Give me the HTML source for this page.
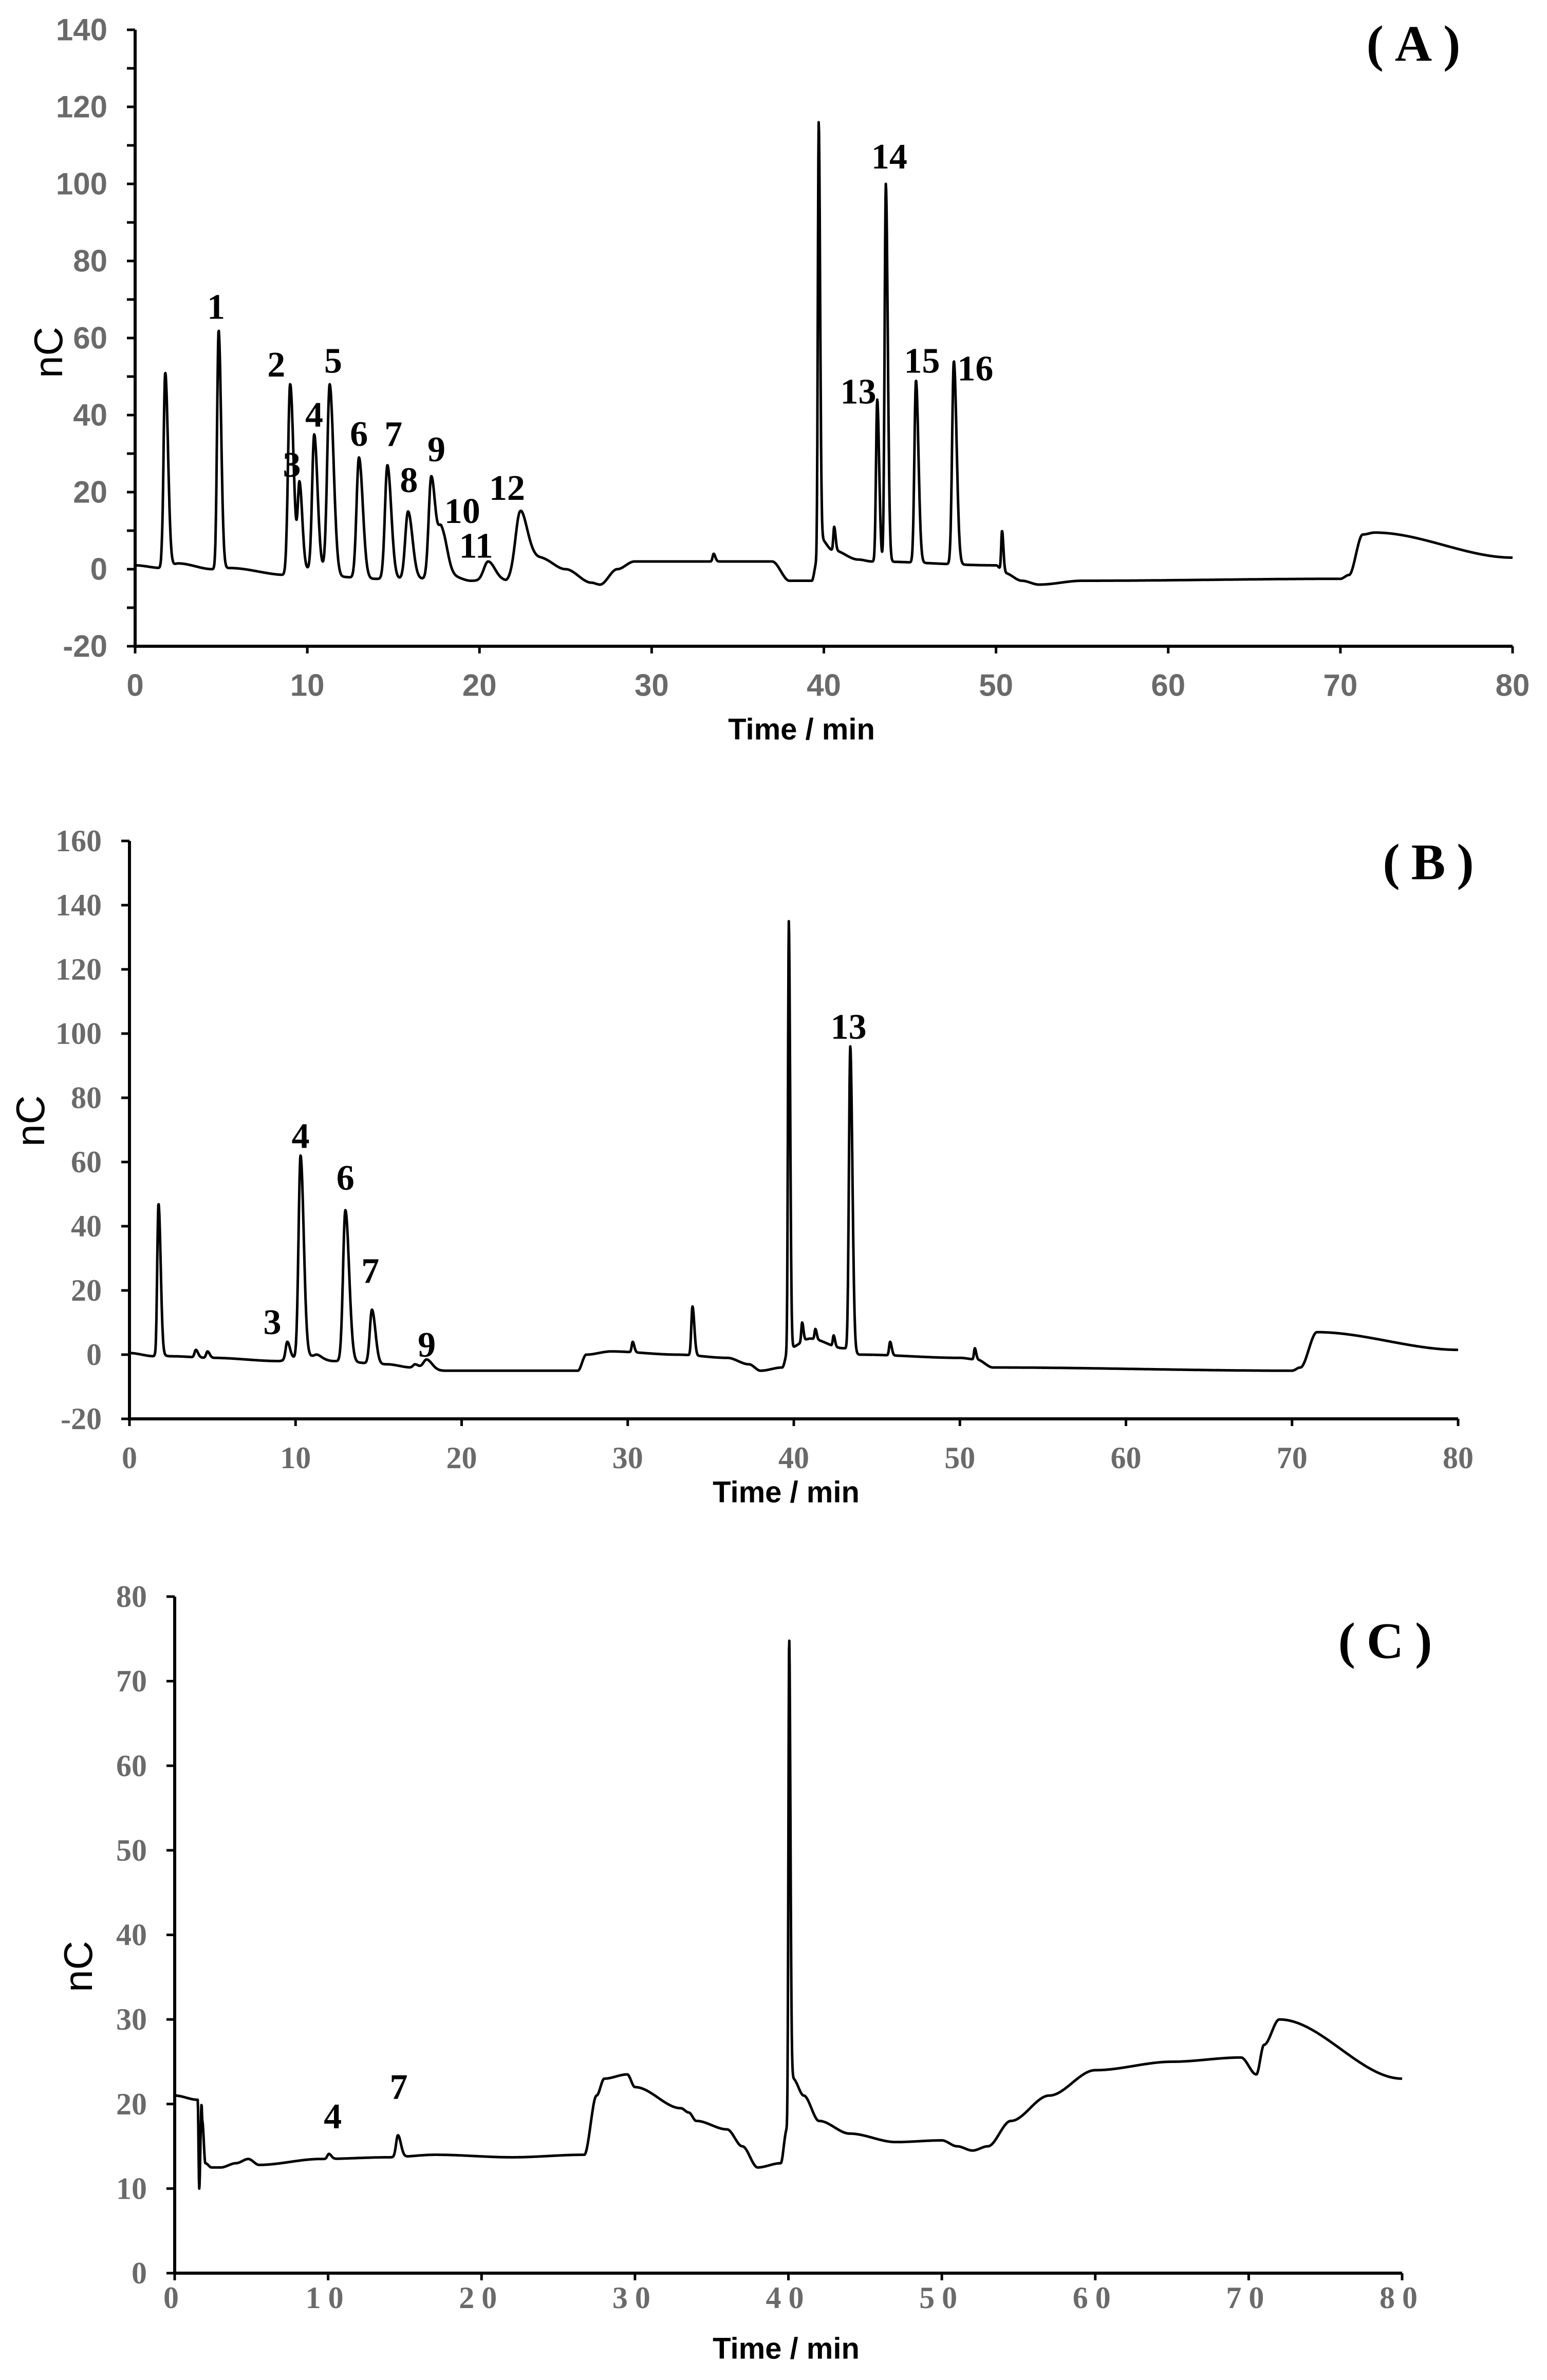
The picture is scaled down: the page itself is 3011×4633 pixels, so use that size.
<!DOCTYPE html>
<html><head><meta charset="utf-8"><style>
html,body{margin:0;padding:0;background:#fff;}
svg{display:block;}
</style></head><body>
<svg id="fig" width="3011" height="4633" viewBox="0 0 3011 4633" xmlns="http://www.w3.org/2000/svg"></svg>
<script>
// ---------- Panel A data ----------
const aBaseT = [0,1.55,1.6,1.7,2.5,4.5,5.5,8.8,9.3,10,11,12,13.5,16.5,18.5,19.5,21.5,22.5,23.5,25,26.5,27,28,29,31,37,38,39.3,39.6,39.8,40.5,42,42.8,50,50.5,51.5,52.5,55,70,70.5,71.3,72,80];
const aBaseV = [1,0.3,-1.5,0,1.5,0,0.3,-1.5,1,0,0,-2,-2.5,-2.5,-2,-3,-3,4,3,0,-3.5,-4,0,2,2,2,-3,-3,2,8,5,2.5,2,1,-1,-3,-4,-3,-2.5,-1.5,9,9.5,3];
const aPeakT = [1.75,4.85,9.0,9.55,10.4,11.3,13.0,14.65,15.85,17.2,17.8,20.5,22.35,33.6,39.7,40.6,43.1,43.6,45.35,47.55,50.35];
const aPeakTop = [51,62,48,22,35,48,29,27,15,24,10,2,15,4,116,11,44,100,49,54,10];
const aPeakW = [0.1,0.09,0.12,0.1,0.12,0.14,0.14,0.14,0.16,0.15,0.2,0.25,0.25,0.06,0.05,0.05,0.07,0.07,0.09,0.1,0.05];
const aYTicks = ["-20","0","20","40","60","80","100","120","140"];
const aXTicks = ["0","10","20","30","40","50","60","70","80"];
const aLabels = ["1","2","3","4","5","6","7","8","9","10","11","12","13","14","15","16"];
const aLabelT = [4.7,8.2,9.1,10.4,11.5,13.0,15.0,15.9,17.5,19.0,19.8,21.6,42.0,43.8,45.7,48.8];
const aLabelV = [68,53,27,40,54,35,35,23,31,15,6,21,46,107,54,52];
// ---------- Panel B data ----------
const bBaseT = [0,1.5,1.6,1.7,2.5,5,9,9.3,10,11,12.3,15.5,17,19,27,27.5,29,33,36,37.3,38,39.3,39.7,41,43,44,50,51,52,70,70.5,71.5,80];
const bBaseV = [0.5,-0.5,-2,0,-0.5,-1,-2,-1.8,-1,-0.5,-2,-3,-4,-5,-5,0,1,0,-1,-3,-5,-4,2,5,2,0,-1,-1.5,-4,-5,-4,7,1.5];
const bPeakT = [1.75,4.0,4.7,9.5,10.3,11.3,13.0,14.6,17.2,17.9,30.3,33.9,39.7,40.5,41.3,42.4,43.4,45.8,50.9];
const bPeakTop = [47,1.5,1,4,62,0,45,14,-3,-1.5,4,15,135,10,8,6,96,4,2];
const bPeakW = [0.08,0.08,0.08,0.1,0.12,0.15,0.14,0.13,0.12,0.2,0.06,0.07,0.05,0.05,0.05,0.05,0.08,0.06,0.05];
const bYTicks = ["-20","0","20","40","60","80","100","120","140","160"];
const bXTicks = ["0","10","20","30","40","50","60","70","80"];
const bLabels = ["3","4","6","7","9","13"];
const bLabelT = [8.6,10.3,13.0,14.5,17.9,43.3];
const bLabelV = [10,68,55,26,3,102];
// ---------- Panel C data ----------
const cBaseT = [0,1.5,1.6,1.75,1.8,2.0,2.4,3,4,4.8,5.5,9.5,14,17,22,26.7,27.5,28,29.5,30,33,33.5,34,36,37,38,39.5,39.9,40.3,41,42,44,47,50,51,52,53,54.5,57,60,65,69.5,70.5,71,72,80];
const cBaseV = [21,20.5,10,20,18,13,12.5,12.5,13,13.5,12.8,13.5,13.7,14,13.7,14,21,23,23.5,22,19.5,19,18,17,15,12.5,13,17,23,21,18,16.5,15.5,15.7,15,14.5,15,18,21,24,25,25.5,23.5,27,30,23];
const cPeakT = [10.05,14.55,40.05];
const cPeakTop = [14.1,16.3,75];
const cPeakW = [0.1,0.12,0.05];
const cYTicks = ["0","10","20","30","40","50","60","70","80"];
const cXTicks = ["0","10","20","30","40","50","60","70","80"];
const cLabels = ["4","7"];
const cLabelT = [10.3,14.6];
const cLabelV = [18.5,22];

const NS = "http://www.w3.org/2000/svg";
const svg = document.getElementById('fig');
function mk(tag, attrs, parent){
  const e = document.createElementNS(NS, tag);
  for (const k in attrs) e.setAttribute(k, attrs[k]);
  (parent||svg).appendChild(e);
  return e;
}
function interp(ts, vs, t){
  if (t <= ts[0]) return vs[0];
  for (let i=1;i<ts.length;i++){
    if (t <= ts[i]){ const f=(t-ts[i-1])/(ts[i]-ts[i-1]); const s=f*f*(3-2*f); return vs[i-1]+(vs[i]-vs[i-1])*s; }
  }
  return vs[vs.length-1];
}
function panel(cfg){
  const g = mk('g', {});
  
  
  const xS = t => cfg.x0 + (t - 0) / 80 * (cfg.x1 - cfg.x0);
  const yS = v => cfg.yb + (v - cfg.vmin) / (cfg.vmax - cfg.vmin) * (cfg.yt - cfg.yb);
  const hs = cfg.pT.map((t,i)=> cfg.pTop[i] - interp(cfg.bT, cfg.bV, t));
  let d = '';
  for (let t=0; t<=80.0001; t+=0.02){
    let v = interp(cfg.bT, cfg.bV, t);
    for (let i=0;i<cfg.pT.length;i++){
      const dt = t - cfg.pT[i];
      const s = dt < 0 ? cfg.pW[i] : cfg.pW[i]*1.6;
      if (Math.abs(dt) < 8*s) v += hs[i]*Math.exp(-dt*dt/(2*s*s));
    }
    d += (d ? 'L' : 'M') + xS(t).toFixed(1) + ' ' + yS(v).toFixed(1);
  }
  const p = mk('path', {d:d, fill:'none', stroke:'#000', 'stroke-width':5, 'stroke-linejoin':'round'}, g);
  
  
  const ya = mk('line', {x1:cfg.x0, y1:yS(cfg.vmax), x2:cfg.x0, y2:yS(cfg.vmin), stroke:'#000', 'stroke-width':6}, g);
  
  
  const xa = mk('line', {x1:cfg.x0-3, y1:yS(cfg.vmin), x2:cfg.x1, y2:yS(cfg.vmin), stroke:'#000', 'stroke-width':6}, g);
  
  
  const tickFont = cfg.sansTicks ? '"Liberation Sans", sans-serif' : '"Liberation Serif", serif';
  cfg.yTicks.forEach(s=>{
    const v = parseFloat(s), y = yS(v);
    mk('line', {x1:cfg.x0-16, y1:y, x2:cfg.x0, y2:y, stroke:'#000', 'stroke-width':5}, g);
    const tx = mk('text', {x:cfg.x0-54, y:y, 'text-anchor':'end', 'dominant-baseline':'central', 'font-family':tickFont, 'font-weight':'bold', 'font-size':60, fill:'#6a6a6a'}, g);
    tx.textContent = s;
    
    
    if (cfg.minor && v < cfg.vmax){
      const ym = yS(v + cfg.minor);
      mk('line', {x1:cfg.x0-16, y1:ym, x2:cfg.x0, y2:ym, stroke:'#000', 'stroke-width':5}, g);
    }
  });
  cfg.xTicks.forEach(s=>{
    const x = xS(parseFloat(s)), y = yS(cfg.vmin);
    mk('line', {x1:x, y1:y, x2:x, y2:y+14, stroke:'#000', 'stroke-width':5}, g);
    const tx = mk('text', {x:x, y:y+cfg.xlOff, 'text-anchor':'middle', 'dominant-baseline':'central', 'font-family':tickFont, 'font-weight':'bold', 'font-size':60, fill:'#6a6a6a', 'letter-spacing':cfg.spaced?14:0}, g);
    tx.textContent = s;
    
    
  });
  cfg.labels.forEach((s,i)=>{
    const tx = mk('text', {x:xS(cfg.lT[i]), y:yS(cfg.lV[i]), 'text-anchor':'middle', 'dominant-baseline':'central', 'font-family':'"Liberation Serif", serif', 'font-weight':'bold', 'font-size':70, fill:'#000'}, g);
    tx.textContent = s;
    
    
  });
  const xt = mk('text', {x:cfg.xtX, y:cfg.xtY, 'text-anchor':'middle', 'dominant-baseline':'central', 'font-family':'"Liberation Sans", sans-serif', 'font-weight':'bold', 'font-size':58, fill:'#000'}, g);
  xt.textContent = 'Time / min';
  
  
  const yt = mk('text', {x:0, y:0, transform:'translate('+cfg.ytX+','+cfg.ytY+') rotate(-90)', 'text-anchor':'middle', 'dominant-baseline':'central', 'font-family':'"Liberation Sans", sans-serif', 'font-size':78, fill:'#000'}, g);
  yt.textContent = 'nC';
  
  
  const pt = mk('text', {x:cfg.tX, y:cfg.tY, 'text-anchor':'middle', 'dominant-baseline':'central', 'font-family':'"Liberation Serif", serif', 'font-weight':'bold', 'font-size':100, fill:'#000', 'letter-spacing':22}, g);
  pt.textContent = '(' + cfg.letter + ')';
  
  
}
panel({name:'panel-a', x0:263, x1:2944, yt:58, yb:1258, vmin:-20, vmax:140, minor:10, sansTicks:true, xlOff:76,
  bT:aBaseT, bV:aBaseV, pT:aPeakT, pTop:aPeakTop, pW:aPeakW, yTicks:aYTicks, xTicks:aXTicks,
  labels:aLabels, lT:aLabelT, lV:aLabelV, xtX:1560, xtY:1420, ytX:94, ytY:686, tX:2762, tY:85, letter:'A'});
panel({name:'panel-b', x0:252, x1:2838, yt:1637, yb:2762, vmin:-20, vmax:160, minor:0, xlOff:76,
  bT:bBaseT, bV:bBaseV, pT:bPeakT, pTop:bPeakTop, pW:bPeakW, yTicks:bYTicks, xTicks:bXTicks,
  labels:bLabels, lT:bLabelT, lV:bLabelV, xtX:1530, xtY:2905, ytX:59, ytY:2182, tX:2791, tY:1678, letter:'B'});
panel({name:'panel-c', x0:340, x1:2729, yt:3108, yb:4425, vmin:0, vmax:80, minor:0, spaced:true, xlOff:48,
  bT:cBaseT, bV:cBaseV, pT:cPeakT, pTop:cPeakTop, pW:cPeakW, yTicks:cYTicks, xTicks:cXTicks,
  labels:cLabels, lT:cLabelT, lV:cLabelV, xtX:1530, xtY:4572, ytX:152, ytY:3828, tX:2707, tY:3194, letter:'C'});
</script>
</body></html>
